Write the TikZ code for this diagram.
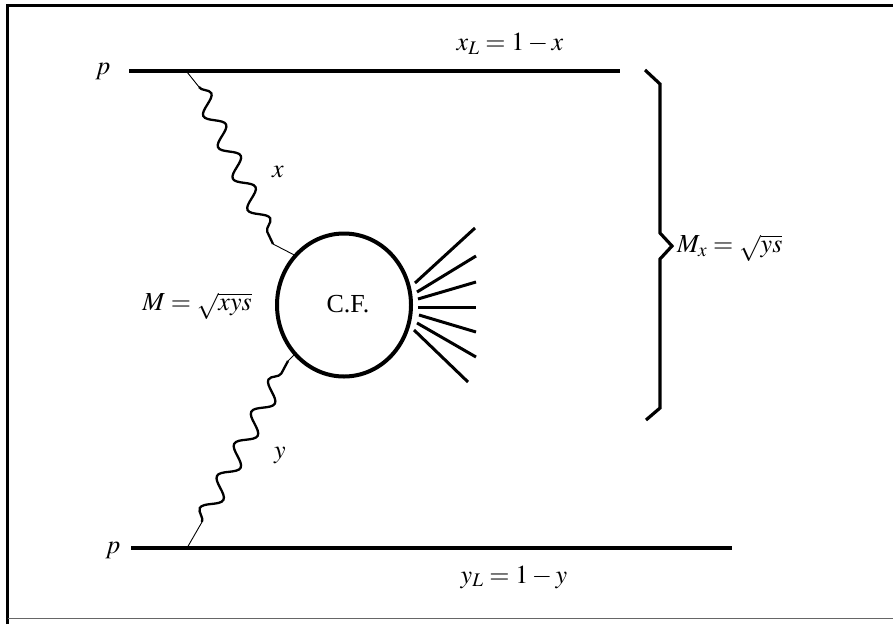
\documentclass[tikz,border=0pt]{standalone}
\usepackage{mathptmx}
\usepackage{fontspec}
\setmainfont{Liberation Serif}
\usetikzlibrary{decorations.pathmorphing,shapes.geometric}
\begin{document}
\begin{tikzpicture}[x=1pt,y=-1pt,
  lbl/.style={inner sep=0pt,font=\fontsize{26}{30}\selectfont},
  beam/.style={line width=4pt},
  spoke/.style={line width=3pt},
  tail/.style={line width=0.9pt},
  wave/.style={line width=2.3pt,decorate,decoration={snake,amplitude=8.5pt,segment length=#1}},
  frameline/.style={line width=3pt}]
\useasboundingbox (0,0) rectangle (893,624);
% frame
\coordinate (f1) at (7.5,624);
\coordinate (f2) at (7.5,5.5);
\coordinate (f3) at (893,5.5);
\coordinate (f4) at (7.5,618);
\coordinate (f5) at (893,618);
\draw[frameline] (f1) -- (f2) -- (f3);
\draw[line width=1pt,black!60] (f4) -- (f5);
% proton lines
\coordinate (a1) at (129,71);
\coordinate (a2) at (620,71);
\coordinate (b1) at (131,548);
\coordinate (b2) at (732,548);
\draw[beam] (a1) -- (a2);
\draw[beam] (b1) -- (b2);
\node[lbl] (p1) at (103,72) {$p$};
\node[lbl] (p2) at (113,550) {$p$};
\node[lbl] (xl) at (510,44) {$x_L=1-x$};
\node[lbl] (yl) at (514,577) {$y_L=1-y$};
% central blob
\node[ellipse,draw,line width=4pt,minimum width=134pt,minimum height=143pt,inner sep=0pt] (cf) at (344,305) {};
\node[lbl] (cft) at (348,304) {C.F.};
% photons
\coordinate (t0) at (187,72);
\coordinate (t1) at (199,87);
\coordinate (t2) at (273,244);
\coordinate (u0) at (187,548);
\coordinate (u1) at (202,522);
\coordinate (u2) at (288,361);
\draw[tail] (t0) -- (t1);
\draw[wave=34.6pt] (t1) -- (t2);
\draw[tail] (t2) -- (cf.135);
\draw[tail] (u0) -- (u1);
\draw[wave=36.4pt] (u1) -- (u2);
\draw[tail] (u2) -- (cf.225);
\node[lbl] (xlab) at (278,172) {$x$};
\node[lbl] (ylab) at (280,455) {$y$};
\node[lbl] (mlab) at (197,306) {$M=\sqrt{xys}$};
% outgoing jets
\coordinate (s1a) at (415,283); \coordinate (s1b) at (475,228);
\coordinate (s2a) at (417,292); \coordinate (s2b) at (476,256);
\coordinate (s3a) at (418,299); \coordinate (s3b) at (476,282);
\coordinate (s4a) at (418,307); \coordinate (s4b) at (476,307);
\coordinate (s5a) at (419,315); \coordinate (s5b) at (476,332);
\coordinate (s6a) at (417,323); \coordinate (s6b) at (476,357);
\coordinate (s7a) at (414,330); \coordinate (s7b) at (468,382);
\foreach \i in {1,...,7} {\draw[spoke] (s\i a) -- (s\i b);}
% brace
\coordinate (r1) at (645,70);
\coordinate (r2) at (660,84);
\coordinate (r3) at (660,233);
\coordinate (r4) at (672,246);
\coordinate (r5) at (660,259);
\coordinate (r6) at (660,408);
\coordinate (r7) at (646,420);
\draw[line width=3.2pt,line join=miter] (r1) -- (r2) -- (r3) -- (r4) -- (r5) -- (r6) -- (r7);
\node[lbl,anchor=west] (mx) at (677,248) {$M_x=\sqrt{ys}$};
\end{tikzpicture}
\end{document}
